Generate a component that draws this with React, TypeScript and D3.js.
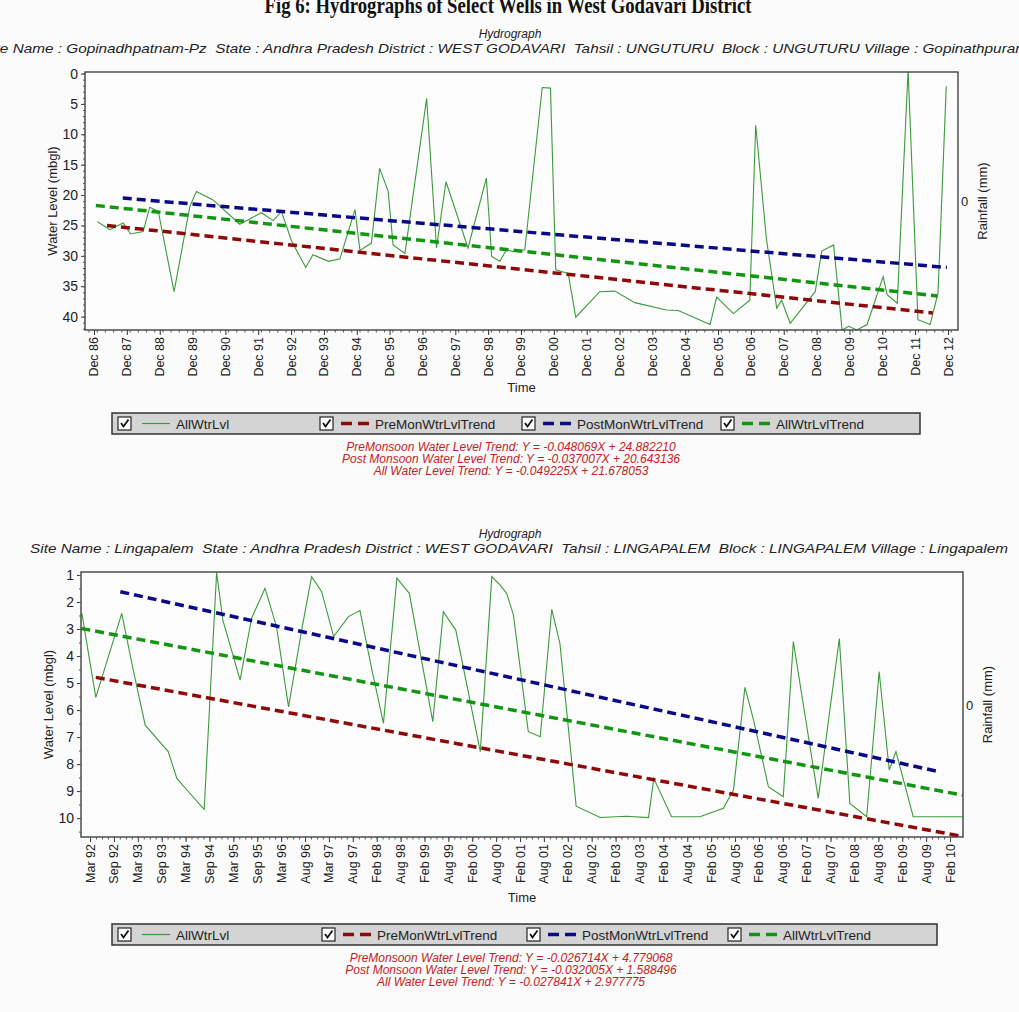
import React, { useEffect, useRef } from 'react'
import * as d3 from 'd3'

const W = 1019
const H = 1012

// ---------- Chart 1 : Gopinadhpatnam-Pz ----------
const G_TICK_LABELS = [
  'Dec 86', 'Dec 87', 'Dec 88', 'Dec 89', 'Dec 90', 'Dec 91', 'Dec 92', 'Dec 93', 'Dec 94',
  'Dec 95', 'Dec 96', 'Dec 97', 'Dec 98', 'Dec 99', 'Dec 00', 'Dec 01', 'Dec 02', 'Dec 03',
  'Dec 04', 'Dec 05', 'Dec 06', 'Dec 07', 'Dec 08', 'Dec 09', 'Dec 10', 'Dec 11', 'Dec 12',
]
const G_Y_TICKS = [0, 5, 10, 15, 20, 25, 30, 35, 40]
// [decimal year, water level (mbgl)]
const G_LEVEL: [number, number][] = [
  [1987.06, 24.4], [1987.44, 25.7], [1987.84, 24.6], [1988.07, 26.4], [1988.45, 26.0],
  [1988.65, 22.0], [1988.91, 22.7], [1989.39, 35.9], [1989.87, 21.9], [1990.07, 19.4],
  [1990.58, 20.8], [1991.39, 24.8], [1992.05, 22.9], [1992.41, 24.2], [1992.66, 22.7],
  [1992.97, 27.6], [1993.40, 31.9], [1993.62, 29.8], [1994.09, 30.9], [1994.44, 30.5],
  [1994.90, 22.4], [1995.05, 29.1], [1995.40, 27.9], [1995.65, 15.6], [1995.91, 19.4],
  [1996.06, 28.2], [1996.42, 29.6], [1997.08, 4.1], [1997.38, 28.7], [1997.67, 17.8],
  [1998.34, 28.7], [1998.90, 17.2], [1999.06, 30.1], [1999.31, 30.9], [1999.51, 29.0],
  [1999.71, 29.3], [2000.07, 29.0], [2000.60, 2.3], [2000.85, 2.4], [2001.01, 32.3],
  [2001.39, 32.9], [2001.62, 40.1], [2002.35, 35.9], [2002.81, 35.8], [2003.42, 37.7],
  [2004.38, 38.9], [2004.74, 39.0], [2005.71, 41.3], [2005.91, 36.8], [2006.42, 39.5],
  [2006.92, 37.3], [2007.10, 8.5], [2007.43, 27.4], [2007.74, 38.6], [2007.89, 37.3],
  [2008.15, 41.1], [2008.91, 35.9], [2009.11, 29.2], [2009.47, 28.2], [2009.73, 42.2],
  [2009.93, 41.6], [2010.18, 42.2], [2010.49, 41.3], [2010.98, 33.4], [2011.10, 36.4],
  [2011.41, 37.8], [2011.74, -0.6], [2012.04, 40.5], [2012.41, 41.3], [2012.65, 36.1],
  [2012.90, 2.1],
]
const G_PRE: [number, number][] = [[1987.35, 25.0], [2012.49, 39.4]]
const G_POST: [number, number][] = [[1987.83, 20.5], [2012.92, 31.9]]
const G_ALL: [number, number][] = [[1987.01, 21.7], [2012.64, 36.6]]
const G_EQUATIONS = [
  'PreMonsoon Water Level Trend: Y = -0.048069X + 24.882210',
  'Post Monsoon Water Level Trend: Y = -0.037007X + 20.643136',
  'All Water Level Trend: Y = -0.049225X + 21.678053',
]

// ---------- Chart 2 : Lingapalem ----------
const L_TICK_LABELS = [
  'Mar 92', 'Sep 92', 'Mar 93', 'Sep 93', 'Mar 94', 'Sep 94', 'Mar 95', 'Sep 95', 'Mar 96',
  'Aug 96', 'Mar 97', 'Aug 97', 'Feb 98', 'Aug 98', 'Feb 99', 'Aug 99', 'Feb 00', 'Aug 00',
  'Feb 01', 'Aug 01', 'Feb 02', 'Aug 02', 'Feb 03', 'Aug 03', 'Feb 04', 'Aug 04', 'Feb 05',
  'Aug 05', 'Feb 06', 'Aug 06', 'Feb 07', 'Aug 07', 'Feb 08', 'Aug 08', 'Feb 09', 'Aug 09',
  'Feb 10',
]
const L_Y_TICKS = [1, 2, 3, 4, 5, 6, 7, 8, 9, 10]
const L_LEVEL: [number, number][] = [
  [1992.01, 2.42], [1992.30, 5.53], [1992.84, 2.42], [1993.08, 4.52], [1993.33, 6.56],
  [1993.60, 7.11], [1993.81, 7.54], [1993.99, 8.53], [1994.20, 8.96], [1994.56, 9.68],
  [1994.82, 0.91], [1994.95, 2.67], [1995.17, 4.02], [1995.31, 4.89], [1995.55, 2.60],
  [1995.83, 1.49], [1996.07, 2.91], [1996.32, 5.88], [1996.60, 2.98], [1996.80, 1.06],
  [1997.01, 1.62], [1997.26, 3.28], [1997.57, 2.54], [1997.81, 2.32], [1998.06, 4.52],
  [1998.30, 6.49], [1998.58, 1.12], [1998.84, 1.68], [1999.03, 3.53], [1999.33, 6.43],
  [1999.55, 2.36], [1999.81, 3.04], [2000.32, 7.54], [2000.56, 1.06], [2000.73, 1.37],
  [2000.87, 1.68], [2001.01, 2.48], [2001.32, 6.80], [2001.57, 6.99], [2001.81, 2.27],
  [2001.98, 3.53], [2002.32, 9.56], [2002.82, 9.98], [2003.37, 9.93], [2003.83, 9.98],
  [2003.94, 8.53], [2004.31, 9.95], [2004.90, 9.95], [2005.39, 9.64], [2005.60, 8.96],
  [2005.84, 5.16], [2006.02, 6.37], [2006.33, 8.84], [2006.64, 9.21], [2006.85, 3.47],
  [2007.37, 9.27], [2007.81, 3.35], [2008.03, 9.46], [2008.38, 9.95], [2008.64, 4.58],
  [2008.85, 8.22], [2008.99, 7.54], [2009.35, 9.95], [2010.38, 9.95],
]
const L_PRE: [number, number][] = [[1992.30, 4.79], [2010.36, 10.67]]
const L_POST: [number, number][] = [[1992.81, 1.62], [2009.83, 8.26]]
const L_ALL: [number, number][] = [[1992.0, 2.98], [2010.38, 9.15]]
const L_EQUATIONS = [
  'PreMonsoon Water Level Trend: Y = -0.026714X + 4.779068',
  'Post Monsoon Water Level Trend: Y = -0.032005X + 1.588496',
  'All Water Level Trend: Y = -0.027841X + 2.977775',
]

const LEGEND_ITEMS = [
  { key: 'AllWtrLvl', color: '#3c9a3c', dashed: false },
  { key: 'PreMonWtrLvlTrend', color: '#8e0a0a', dashed: true },
  { key: 'PostMonWtrLvlTrend', color: '#0a0a86', dashed: true },
  { key: 'AllWtrLvlTrend', color: '#129612', dashed: true },
]

const FONT = '"Liberation Sans", Arial, sans-serif'

// decimal year -> Date
const toDate = (y: number) => {
  const yr = Math.floor(y)
  const start = new Date(yr, 0, 1).getTime()
  const end = new Date(yr + 1, 0, 1).getTime()
  return new Date(start + (y - yr) * (end - start))
}

function drawHydrograph(root, cfg) {
  const { box, yDomain, xDomain } = cfg
  const g = root.append('g')

  const x = d3.scaleTime().domain(xDomain).range([box.left, box.right])
  const y = d3.scaleLinear().domain(yDomain).range([box.top, box.bottom])

  // header
  g.append('text')
    .attr('x', 510).attr('y', cfg.headerY)
    .attr('text-anchor', 'middle').attr('font-style', 'italic')
    .attr('font-size', 12).attr('fill', '#222')
    .text('Hydrograph')
  g.append('text')
    .attr('x', cfg.site.x).attr('y', cfg.headerY + 15)
    .attr('text-anchor', 'middle').attr('font-style', 'italic')
    .attr('font-size', 13).attr('fill', '#222')
    .attr('textLength', cfg.site.width).attr('lengthAdjust', 'spacingAndGlyphs')
    .attr('xml:space', 'preserve')
    .text(cfg.site.text)

  // plot area
  g.append('rect')
    .attr('x', box.left).attr('y', box.top)
    .attr('width', box.right - box.left).attr('height', box.bottom - box.top)
    .attr('fill', '#fcfcfc')

  const clipId = cfg.id + '-clip'
  g.append('clipPath').attr('id', clipId)
    .append('rect')
    .attr('x', box.left).attr('y', box.top)
    .attr('width', box.right - box.left).attr('height', box.bottom - box.top)

  const plot = g.append('g').attr('clip-path', `url(#${clipId})`)

  const line = d3.line<[number, number]>()
    .x(d => x(toDate(d[0])))
    .y(d => y(d[1]))

  plot.append('path')
    .datum(cfg.level)
    .attr('d', line)
    .attr('fill', 'none')
    .attr('stroke', LEGEND_ITEMS[0].color)
    .attr('stroke-width', 1.1)

  const trends = [
    [cfg.pre, LEGEND_ITEMS[1].color],
    [cfg.all, LEGEND_ITEMS[3].color],
    [cfg.post, LEGEND_ITEMS[2].color],
  ]
  trends.forEach(([data, color]) => {
    plot.append('path')
      .datum(data)
      .attr('d', line)
      .attr('fill', 'none')
      .attr('stroke', color)
      .attr('stroke-width', 3.5)
      .attr('stroke-dasharray', '9,5')
  })

  // frame
  g.append('rect')
    .attr('x', box.left).attr('y', box.top)
    .attr('width', box.right - box.left).attr('height', box.bottom - box.top)
    .attr('fill', 'none').attr('stroke', '#333').attr('stroke-width', 1.3)

  // y axis
  const yAxis = d3.axisLeft(y)
    .tickValues(cfg.yTicks)
    .tickSize(4)
    .tickPadding(3)
  const ya = g.append('g')
    .attr('transform', `translate(${box.left},0)`)
    .call(yAxis)
  ya.select('.domain').remove()
  ya.selectAll('text').attr('font-size', 14).attr('font-family', FONT).attr('fill', '#222')
  ya.selectAll('line').attr('stroke', '#333')

  const yMinor = g.append('g')
    .attr('transform', `translate(${box.left},0)`)
    .call(d3.axisLeft(y).tickValues(cfg.yMinor).tickSize(2).tickFormat(() => ''))
  yMinor.select('.domain').remove()
  yMinor.selectAll('line').attr('stroke', '#555')

  // x axis
  const xAxis = d3.axisBottom(x)
    .tickValues(cfg.xTicks)
    .tickSize(5)
    .tickFormat((_, i) => cfg.xLabels[i])
  const xa = g.append('g')
    .attr('transform', `translate(0,${box.bottom})`)
    .call(xAxis)
  xa.select('.domain').remove()
  xa.selectAll('line').attr('stroke', '#333')
  xa.selectAll('text')
    .attr('font-size', 12.5).attr('font-family', FONT).attr('fill', '#222')
    .attr('text-anchor', 'end')
    .attr('dominant-baseline', 'central')
    .attr('transform', 'rotate(-90)')
    .attr('x', -7).attr('y', 0).attr('dy', null)

  const xMinor = g.append('g')
    .attr('transform', `translate(0,${box.bottom})`)
    .call(d3.axisBottom(x).tickValues(cfg.xMinor).tickSize(2.5).tickFormat(() => ''))
  xMinor.select('.domain').remove()
  xMinor.selectAll('line').attr('stroke', '#555')

  // axis titles
  const midY = (box.top + box.bottom) / 2
  g.append('text')
    .attr('transform', `translate(${box.left - 28},${midY}) rotate(-90)`)
    .attr('text-anchor', 'middle').attr('font-size', 13).attr('fill', '#222')
    .text('Water Level (mbgl)')
  g.append('text')
    .attr('transform', `translate(${box.right + 29},${midY}) rotate(-90)`)
    .attr('text-anchor', 'middle').attr('font-size', 13).attr('fill', '#222')
    .text('Rainfall (mm)')
  g.append('text')
    .attr('x', box.right + 3).attr('y', midY + 5)
    .attr('font-size', 13).attr('fill', '#222')
    .text('0')
  g.append('text')
    .attr('x', (box.left + box.right) / 2).attr('y', cfg.timeY)
    .attr('text-anchor', 'middle').attr('font-size', 13).attr('fill', '#222')
    .text('Time')

  // legend
  const lg = g.append('g').attr('transform', `translate(0,${cfg.legend.y})`)
  const lh = 21
  lg.append('rect')
    .attr('x', cfg.legend.x0).attr('y', 0)
    .attr('width', cfg.legend.x1 - cfg.legend.x0).attr('height', lh)
    .attr('fill', '#d4d4d4').attr('stroke', '#333').attr('stroke-width', 1.5)
  LEGEND_ITEMS.forEach((item, i) => {
    const ix = cfg.legend.items[i]
    lg.append('rect')
      .attr('x', ix).attr('y', 4).attr('width', 13).attr('height', 13)
      .attr('fill', '#fff').attr('stroke', '#222').attr('stroke-width', 1.2)
    lg.append('path')
      .attr('d', `M${ix + 3},${10} L${ix + 5.5},${13.5} L${ix + 10.5},${6.5}`)
      .attr('fill', 'none').attr('stroke', '#111').attr('stroke-width', 1.8)
    lg.append('line')
      .attr('x1', ix + (item.dashed ? 21 : 24)).attr('x2', ix + (item.dashed ? 50 : 52))
      .attr('y1', lh / 2).attr('y2', lh / 2)
      .attr('stroke', item.color)
      .attr('stroke-width', item.dashed ? 3.5 : 1.2)
      .attr('stroke-dasharray', item.dashed ? '11,6' : null)
    lg.append('text')
      .attr('x', ix + (item.dashed ? 55 : 58)).attr('y', lh / 2 + 5)
      .attr('font-size', 13.5).attr('fill', '#222')
      .text(item.key)
  })

  // equations
  cfg.equations.forEach((eq, i) => {
    g.append('text')
      .attr('x', 511).attr('y', cfg.eqY + i * 12)
      .attr('text-anchor', 'middle').attr('font-style', 'italic')
      .attr('font-size', 12).attr('fill', '#c42222')
      .text(eq)
  })
}

export default function App() {
  const svgRef = useRef<SVGSVGElement>(null)

  useEffect(() => {
    const svg = d3.select(svgRef.current)
    svg.selectAll('*').remove()
    svg.attr('font-family', FONT)

    svg.append('rect').attr('width', W).attr('height', H).attr('fill', '#fbfbfb')

    // figure caption (cropped at the top in the original)
    svg.append('text')
      .attr('x', 508).attr('y', 13)
      .attr('text-anchor', 'middle')
      .attr('font-family', '"Liberation Serif", "Times New Roman", serif')
      .attr('font-weight', 'bold').attr('font-size', 23).attr('fill', '#111')
      .attr('textLength', 487).attr('lengthAdjust', 'spacingAndGlyphs')
      .text('Fig 6: Hydrographs of Select Wells in West Godavari District')

    // chart 1 : yearly ticks at mid-December
    const gTicks = G_TICK_LABELS.map((_, i) => new Date(1986 + i, 11, 15))
    const gMinor = d3.timeMonth.every(3).range(new Date(1986, 8, 15), new Date(2013, 2, 15))
      .map(d => new Date(d.getFullYear(), d.getMonth(), 15))
    drawHydrograph(svg, {
      id: 'g1',
      box: { left: 85, right: 958, top: 72, bottom: 330 },
      yDomain: [-0.25, 42.2],
      yTicks: G_Y_TICKS,
      yMinor: d3.range(0, 43, 1),
      xDomain: [d3.timeDay.offset(gTicks[0], -100), d3.timeDay.offset(gTicks[gTicks.length - 1], 111)],
      xTicks: gTicks,
      xMinor: gMinor,
      xLabels: G_TICK_LABELS,
      headerY: 38,
      site: {
        x: 505, width: 1046,
        text: 'Site Name : Gopinadhpatnam-Pz  State : Andhra Pradesh District : WEST GODAVARI  Tahsil : UNGUTURU  Block : UNGUTURU Village : Gopinathpuram',
      },
      level: G_LEVEL, pre: G_PRE, post: G_POST, all: G_ALL,
      timeY: 392,
      legend: { y: 413, x0: 112, x1: 920, items: [118, 320, 522, 721] },
      equations: G_EQUATIONS,
      eqY: 451,
    })

    // chart 2 : the software places a tick every 182 days from the first reading
    const lStart = new Date(1992, 2, 7)
    const lTicks = L_TICK_LABELS.map((_, i) => d3.timeDay.offset(lStart, 182 * i))
    const lMinor = d3.range(0, 36 * 4 + 1).map(i => d3.timeDay.offset(lStart, 45.5 * i))
    drawHydrograph(svg, {
      id: 'g2',
      box: { left: 81, right: 963, top: 572, bottom: 837 },
      yDomain: [0.89, 10.7],
      yTicks: L_Y_TICKS,
      yMinor: d3.range(1, 10.75, 0.5),
      xDomain: [d3.timeDay.offset(lTicks[0], -69), d3.timeDay.offset(lTicks[lTicks.length - 1], 99)],
      xTicks: lTicks,
      xMinor: lMinor,
      xLabels: L_TICK_LABELS,
      headerY: 538,
      site: {
        x: 519, width: 978,
        text: 'Site Name : Lingapalem  State : Andhra Pradesh District : WEST GODAVARI  Tahsil : LINGAPALEM  Block : LINGAPALEM Village : Lingapalem',
      },
      level: L_LEVEL, pre: L_PRE, post: L_POST, all: L_ALL,
      timeY: 902,
      legend: { y: 924, x0: 112, x1: 937, items: [118, 322, 527, 728] },
      equations: L_EQUATIONS,
      eqY: 962,
    })
  }, [])

  return (
    <div style={{ position: 'absolute', left: 0, top: 0 }}>
      <svg ref={svgRef} width={W} height={H} style={{ display: 'block' }} />
    </div>
  )
}
